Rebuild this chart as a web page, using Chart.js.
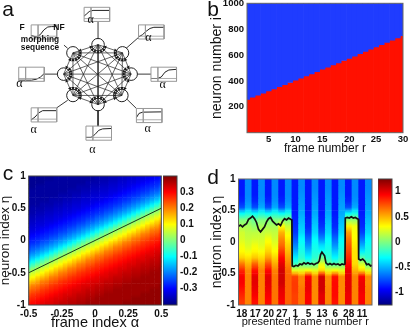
<!DOCTYPE html>
<html>
<head>
<meta charset="utf-8">
<script src="https://cdn.jsdelivr.net/npm/chart.js@4"></script>
<style>
    body { margin: 0; background: #fff; }
    #page { position: relative; width: 410px; height: 327px; overflow: hidden; }
    canvas { position: absolute; }
</style>
</head>
<body>
<div id="page">
    <canvas id="panelA" width="205" height="165" style="left:0;top:0"></canvas>
    <canvas id="panelB" width="205" height="165" style="left:205px;top:0"></canvas>
    <canvas id="panelC" width="205" height="162" style="left:0;top:165px"></canvas>
    <canvas id="panelCBar" width="42" height="162" style="left:163px;top:165px"></canvas>
    <canvas id="panelD" width="205" height="162" style="left:205px;top:165px"></canvas>
    <canvas id="panelDBar" width="32" height="162" style="left:378px;top:165px"></canvas>
</div>
<script>
// panel a: network
const nodesX = [97.7, 124, 133.3, 123.3, 97.7, 70.7, 60.7, 70.7];
const nodesY = [41, 50, 73.3, 96.7, 106.7, 96.7, 73.3, 50];
const stubs = [
    [97.7, 35, 97.7, 15.5], [128, 45, 141.3, 33], [140, 73.3, 154.7, 73.3], [129, 101, 139, 111],
    [97.7, 113, 97.7, 130.3], [65, 102, 53.2, 110.3], [54, 73.3, 39.8, 73.3], [65, 45, 61, 41.5],
];
const boxesX = [82.7, 141.3, 154.7, 139, 84.7, 25.7, 12.3, 25.7];
const boxesY = [0, 19.3, 65.7, 111, 130.3, 110.3, 65.7, 19.3];
const curves = [
    [[0, .62], [.08, .5], [.2, .3], [.35, .22], [1, .22]],
    [[0, .85], [.15, .7], [.3, .45], [.45, .25], [.6, .17], [1, .17]],
    [[0, .8], [.25, .8], [.4, .7], [.55, .35], [.7, .2], [1, .15]],
    [[0, .65], [.1, .35], [.25, .26], [1, .24]],
    [[0, .8], [.2, .8], [.35, .6], [.5, .3], [.65, .2], [1, .17]],
    [[0, .85], [.15, .65], [.3, .35], [.45, .2], [1, .2]],
    [[0, .92], [.5, .92], [.7, .85], [.85, .7], [1, .45]],
    [[0, .75], [.2, .85], [.35, .7], [.5, .35], [.65, .15], [.8, .12], [1, .12]],
];
const alphaLabelsX = [90.7, 148.3, 162.7, 147.7, 92.3, 33.7, 19.3];
const alphaLabelsY = [20, 38.3, 85, 129.3, 149.7, 130, 84.3];

// panel b: red region top for each frame
const framesB = [1, 2, 3, 4, 5, 6, 7, 8, 9, 10, 11, 12, 13, 14, 15, 16, 17, 18, 19, 20, 21, 22, 23, 24, 25, 26, 27, 28, 29, 30];
const redTopB = [258, 275, 290, 305, 322, 338, 355, 372, 388, 405, 422, 438, 455, 472, 490, 506, 523, 540, 558, 575, 592, 610, 628, 645, 662, 680, 698, 715, 733, 750];
const xTicksB = [5, 10, 15, 20, 25, 30];
const yTicksB = [200, 400, 600, 800, 1000];

// panel c: rows from eta=1 down to eta=-1, columns from alpha=-0.5 to 0.5, values in hundredths
const alphaC = [-0.5, -0.466, -0.431, -0.397, -0.362, -0.328, -0.293, -0.259, -0.224, -0.19, -0.155, -0.121, -0.086, -0.052, -0.017, 0.017, 0.052, 0.086, 0.121, 0.155, 0.19, 0.224, 0.259, 0.293, 0.328, 0.362, 0.397, 0.431, 0.466, 0.5];
const etaC = [0.967, 0.9, 0.833, 0.767, 0.7, 0.633, 0.567, 0.5, 0.433, 0.367, 0.3, 0.233, 0.167, 0.1, 0.033, -0.033, -0.1, -0.167, -0.233, -0.3, -0.367, -0.433, -0.5, -0.567, -0.633, -0.7, -0.767, -0.833, -0.9, -0.967];
const heatC = [
    [-39,-39,-39,-39,-39,-39,-38,-38,-38,-38,-38,-38,-38,-38,-38,-37,-37,-37,-36,-36,-35,-35,-34,-34,-33,-33,-32,-31,-30,-29],
    [-39,-39,-39,-39,-38,-38,-38,-38,-38,-38,-38,-38,-38,-37,-37,-37,-36,-36,-35,-35,-34,-34,-33,-33,-32,-31,-30,-29,-28,-27],
    [-39,-39,-38,-38,-38,-38,-38,-38,-38,-38,-38,-37,-37,-37,-36,-36,-35,-35,-34,-34,-33,-33,-32,-31,-30,-29,-28,-27,-26,-24],
    [-38,-38,-38,-38,-38,-38,-38,-38,-38,-37,-37,-37,-36,-36,-35,-35,-34,-34,-33,-33,-32,-31,-30,-29,-28,-27,-26,-24,-23,-21],
    [-38,-38,-38,-38,-38,-38,-38,-37,-37,-37,-36,-36,-35,-35,-34,-34,-33,-33,-32,-31,-30,-29,-28,-27,-26,-24,-23,-21,-19,-17],
    [-38,-38,-38,-38,-38,-37,-37,-37,-36,-36,-35,-35,-34,-34,-33,-33,-32,-31,-30,-29,-28,-27,-26,-24,-23,-21,-19,-17,-15,-12],
    [-38,-38,-38,-37,-37,-37,-36,-36,-35,-35,-34,-34,-33,-33,-32,-31,-30,-29,-28,-27,-26,-24,-23,-21,-19,-17,-15,-12,-9,-6],
    [-38,-37,-37,-37,-36,-36,-35,-35,-34,-34,-33,-33,-32,-31,-30,-29,-28,-27,-26,-24,-23,-21,-19,-17,-15,-12,-9,-6,-3,0],
    [-37,-37,-36,-36,-35,-35,-34,-34,-33,-33,-32,-31,-30,-29,-28,-27,-26,-24,-23,-21,-19,-17,-15,-12,-9,-6,-3,0,3,6],
    [-36,-36,-35,-35,-34,-34,-33,-33,-32,-31,-30,-29,-28,-27,-26,-24,-23,-21,-19,-17,-15,-12,-9,-6,-3,0,3,6,8,10],
    [-35,-35,-34,-34,-33,-33,-32,-31,-30,-29,-28,-27,-26,-24,-23,-21,-19,-17,-15,-12,-9,-6,-3,0,3,6,8,10,13,15],
    [-34,-34,-33,-33,-32,-31,-30,-29,-28,-27,-26,-24,-23,-21,-19,-17,-15,-12,-9,-6,-3,0,3,6,8,10,13,15,17,20],
    [-33,-33,-32,-31,-30,-29,-28,-27,-26,-24,-23,-21,-19,-17,-15,-12,-9,-6,-3,0,3,6,8,10,13,15,17,20,21,23],
    [-32,-31,-30,-29,-28,-27,-26,-24,-23,-21,-19,-17,-15,-12,-9,-6,-3,0,3,6,8,10,13,15,17,20,21,23,24,26],
    [-30,-29,-28,-27,-26,-24,-23,-21,-19,-17,-15,-12,-9,-6,-3,0,3,6,8,10,13,15,17,20,21,23,24,26,27,28],
    [-28,-27,-26,-24,-23,-21,-19,-17,-15,-12,-9,-6,-3,0,3,6,8,10,13,15,17,20,21,23,24,26,27,28,29,30],
    [-26,-24,-23,-21,-19,-17,-15,-12,-9,-6,-3,0,3,6,8,10,13,15,17,20,21,23,24,26,27,28,29,30,31,32],
    [-23,-21,-19,-17,-15,-12,-9,-6,-3,0,3,6,8,10,13,15,17,20,21,23,24,26,27,28,29,30,31,32,33,33],
    [-19,-17,-15,-12,-9,-6,-3,0,3,6,8,10,13,15,17,20,21,23,24,26,27,28,29,30,31,32,33,33,34,35],
    [-15,-12,-9,-6,-3,0,3,6,8,10,13,15,17,20,21,23,24,26,27,28,29,30,31,32,33,33,34,35,35,36],
    [-9,-6,-3,0,3,6,8,10,13,15,17,20,21,23,24,26,27,28,29,30,31,32,33,33,34,35,35,36,36,37],
    [-3,0,3,6,8,10,13,15,17,20,21,23,24,26,27,28,29,30,31,32,33,33,34,35,35,36,36,37,37,38],
    [3,6,8,10,13,15,17,20,21,23,24,26,27,28,29,30,31,32,33,33,34,35,35,36,36,37,37,38,38,38],
    [8,10,13,15,17,20,21,23,24,26,27,28,29,30,31,32,33,33,34,35,35,36,36,37,37,38,38,38,38,38],
    [13,15,17,20,21,23,24,26,27,28,29,30,31,32,33,33,34,35,35,36,36,37,37,38,38,38,38,38,38,38],
    [17,20,21,23,24,26,27,28,29,30,31,32,33,33,34,35,35,36,36,37,37,38,38,38,38,38,38,38,38,39],
    [21,23,24,26,27,28,29,30,31,32,33,33,34,35,35,36,36,37,37,38,38,38,38,38,38,38,38,39,39,39],
    [24,26,27,28,29,30,31,32,33,33,34,35,35,36,36,37,37,38,38,38,38,38,38,38,38,39,39,39,39,39],
    [27,28,29,30,31,32,33,33,34,35,35,36,36,37,37,38,38,38,38,38,38,38,38,39,39,39,39,39,39,39],
    [29,30,31,32,33,33,34,35,35,36,36,37,37,38,38,38,38,38,38,38,38,39,39,39,39,39,39,39,39,39],
];
const lineAlphaC = [-0.5, 0.5];
const lineEtaC = [-0.5, 0.5];
const xTicksC = [-0.5, -0.25, 0, 0.25, 0.5];
const yTicksC = [-1, -0.5, 0, 0.5, 1];
const barTicksC = [-0.3, -0.2, -0.1, 0, 0.1, 0.2, 0.3];

// panel d: one list per stripe, each from eta=0.95 down to eta=-0.95
const stripesD = [1, 2, 3, 4, 5, 6, 7, 8, 9, 10, 11, 12, 13, 14, 15, 16, 17, 18, 19, 20];
const etaD = [0.95, 0.85, 0.75, 0.65, 0.55, 0.45, 0.35, 0.25, 0.15, 0.05, -0.05, -0.15, -0.25, -0.35, -0.45, -0.55, -0.65, -0.75, -0.85, -0.95];
const heatD = [
    [-.88,-.88,-.88,-.85,-.75,-.3,0,.1,.2,.22,.28,.32,.42,.65,.85,.95,.95,.9,.85,.8],
    [-.6,-.6,-.6,-.58,-.52,-.25,0,.1,.15,.18,.22,.28,.38,.5,.6,.62,.62,.62,.62,.62],
    [-.88,-.88,-.88,-.85,-.75,-.3,-.05,.05,.15,.2,.28,.33,.45,.7,.9,1,1,.98,.95,.9],
    [-.6,-.6,-.6,-.58,-.52,-.25,0,.1,.16,.2,.24,.3,.4,.52,.62,.62,.62,.62,.62,.62],
    [-.88,-.88,-.88,-.85,-.75,-.3,0,.1,.18,.28,.35,.42,.55,.75,.92,1,1,.98,.95,.92],
    [-.6,-.6,-.6,-.58,-.52,-.25,0,.1,.16,.2,.26,.32,.42,.52,.62,.65,.65,.65,.65,.65],
    [-.88,-.88,-.88,-.85,-.75,-.3,.02,.3,.5,.6,.68,.8,.92,1,1.05,1.05,1.05,1,.98,.95],
    [-.6,-.6,-.6,-.58,-.52,-.25,0,.18,.28,.35,.42,.48,.55,.62,.68,.7,.7,.7,.7,.7],
    [-.88,-.88,-.88,-.88,-.88,-.88,-.86,-.84,-.8,-.72,-.62,-.5,-.35,-.15,.25,.78,.8,.8,.78,.78],
    [-.6,-.6,-.58,-.56,-.54,-.52,-.48,-.44,-.4,-.32,-.28,-.25,-.2,-.05,.25,.62,.62,.65,.65,.65],
    [-.88,-.88,-.88,-.88,-.88,-.88,-.86,-.84,-.78,-.68,-.58,-.45,-.32,-.12,.3,.95,.98,.98,.95,.95],
    [-.6,-.6,-.58,-.56,-.54,-.52,-.48,-.44,-.4,-.32,-.28,-.25,-.2,-.05,.25,.6,.6,.6,.6,.6],
    [-.88,-.88,-.88,-.88,-.88,-.88,-.86,-.82,-.74,-.6,-.4,-.28,-.05,.25,.4,1.05,1.05,1.05,1,1],
    [-.6,-.6,-.58,-.56,-.54,-.52,-.48,-.44,-.4,-.32,-.28,-.25,-.2,-.05,.25,.6,.6,.62,.62,.62],
    [-.88,-.88,-.88,-.88,-.88,-.88,-.86,-.84,-.78,-.68,-.58,-.45,-.32,-.12,.3,.9,.92,.92,.92,.9],
    [-.6,-.6,-.58,-.56,-.54,-.52,-.48,-.44,-.4,-.32,-.28,-.25,-.2,-.05,.25,.6,.6,.6,.6,.6],
    [-.88,-.88,-.88,-.85,-.75,-.3,.05,.35,.55,.65,.72,.78,.85,.92,.98,1,1,1,.98,.98],
    [-.6,-.6,-.6,-.58,-.52,-.25,.05,.28,.3,.32,.35,.38,.38,.4,.5,.62,.62,.62,.62,.62],
    [-.88,-.88,-.88,-.88,-.88,-.88,-.86,-.84,-.78,-.66,-.52,-.35,-.1,.2,.4,.95,.98,.98,.95,.95],
    [-.6,-.6,-.58,-.56,-.54,-.52,-.48,-.44,-.4,-.32,-.28,-.25,-.2,-.05,.25,.6,.6,.62,.62,.62],
];
const lineXD = [0.5, 0.8, 1.1, 1.4, 1.7, 2.0, 2.3, 2.6, 2.9, 3.2, 3.5, 3.8, 4.1, 4.4, 4.7, 5.0, 5.3, 5.6, 5.9, 6.2, 6.5, 6.8, 7.1, 7.4, 7.7, 8.0, 8.3, 8.5, 8.55, 8.8, 9.1, 9.4, 9.7, 10.0, 10.3, 10.6, 10.9, 11.2, 11.5, 11.8, 12.1, 12.4, 12.6, 12.8, 13.0, 13.2, 13.4, 13.6, 13.9, 14.2, 14.5, 14.8, 15.1, 15.4, 15.7, 16.0, 16.3, 16.45, 16.5, 16.8, 17.1, 17.4, 17.7, 18.0, 18.3, 18.45, 18.5, 18.8, 19.1, 19.4, 19.7, 20.0, 20.3, 20.5];
const lineEtaD = [0.25, 0.27, 0.24, 0.27, 0.29, 0.36, 0.38, 0.41, 0.37, 0.31, 0.2, 0.16, 0.2, 0.24, 0.32, 0.37, 0.39, 0.33, 0.3, 0.27, 0.29, 0.26, 0.33, 0.37, 0.35, 0.38, 0.36, 0.35, -0.38, -0.39, -0.37, -0.38, -0.35, -0.36, -0.33, -0.35, -0.33, -0.35, -0.34, -0.36, -0.34, -0.33, -0.3, -0.2, -0.16, -0.19, -0.22, -0.33, -0.36, -0.34, -0.36, -0.34, -0.36, -0.35, -0.37, -0.35, -0.36, -0.35, 0.38, 0.39, 0.38, 0.4, 0.38, 0.39, 0.37, 0.36, -0.27, -0.29, -0.27, -0.3, -0.36, -0.35, -0.38, -0.37];
const xTicksD = [1, 3, 5, 7, 9, 11, 13, 15, 17, 19];
const xLabelsD = ["18", "17", "20", "27", "1", "5", "13", "6", "28", "11"];
const yTicksD = [-1, -0.5, 0, 0.5, 1];
const barTicksD = [-1, -0.5, 0, 0.5, 1];

const limC = 0.405;
const limD = 1.25;
const FONT = "'Liberation Sans', Arial, sans-serif";

Chart.defaults.font.family = FONT;
Chart.defaults.color = "#111";
Chart.defaults.animation = false;
Chart.defaults.responsive = false;
Chart.defaults.events = [];
Chart.defaults.plugins.legend.display = false;
Chart.defaults.plugins.tooltip.enabled = false;

// frame round the plot and free texts (panel letters, alpha labels)
Chart.register({
    id: "extras",
    afterDatasetsDraw: (chart, args, opts) => {
        const {ctx, chartArea} = chart;
        ctx.save();
        if (opts.frame) {
            ctx.strokeStyle = opts.frame;
            ctx.lineWidth = 1;
            ctx.strokeRect(chartArea.left, chartArea.top, chartArea.right - chartArea.left, chartArea.bottom - chartArea.top);
        }
        ctx.textAlign = "center";
        ctx.textBaseline = "middle";
        ctx.fillStyle = "#111";
        (opts.texts || []).forEach((t) => {
            ctx.font = t.font;
            ctx.fillText(t.text, t.x, t.y);
        });
        ctx.restore();
    },
});

const jet = (v, lim) => {
    const t = (v + lim) / (2 * lim);
    const ch = (c) => Math.round(255 * Math.max(0, Math.min(1, 1.5 - Math.abs(4 * t - c))));
    return `rgb(${ch(3)},${ch(2)},${ch(1)})`;
};

const fit = (w, h) => (s) => {
    if (w !== null) s.width = w;
    if (h !== null) s.height = h;
    s.paddingTop = s.paddingBottom = s.paddingLeft = s.paddingRight = 0;
};

const xAxis = (min, max, ticks, labels, height, tickSize, tickPad, title, titleSize, titlePad) => ({
    type: "linear",
    offset: false,
    min: min,
    max: max,
    afterBuildTicks: (s) => { s.ticks = ticks.map((v) => ({value: v})); },
    afterFit: fit(null, height),
    grid: {display: false, drawTicks: false, offset: false},
    border: {display: false},
    ticks: {
        autoSkip: false, maxRotation: 0, padding: tickPad,
        font: {size: tickSize, weight: "bold"},
        callback: (v) => labels ? labels[ticks.indexOf(v)] : String(v),
    },
    title: {display: true, text: title, font: {size: titleSize}, padding: {top: 0, bottom: titlePad}},
});

const yAxis = (min, max, ticks, width, tickSize, title, titleSize, titlePad) => ({
    min: min,
    max: max,
    afterBuildTicks: (s) => { s.ticks = ticks.map((v) => ({value: v})); },
    afterFit: fit(width, null),
    grid: {display: false, drawTicks: false},
    border: {display: false},
    ticks: {autoSkip: false, padding: 3, font: {size: tickSize, weight: "bold"}, callback: (v) => String(v)},
    title: {display: true, text: title, font: {size: titleSize}, padding: {top: titlePad, bottom: 0}},
});

// one bar dataset per row of the table, each cell a floating bar shaded towards its upper and lower neighbours
const cellDatasets = (xs, etas, rows, halfHeight, lim) => rows.map((row, i) => ({
    type: "bar",
    grouped: false,
    categoryPercentage: 1,
    barPercentage: 1,
    borderWidth: 0,
    data: row.map((v, j) => ({x: xs[j], y: [etas[i] - halfHeight, etas[i] + halfHeight]})),
    backgroundColor: (c) => {
        if (c.dataIndex === undefined || !c.chart.chartArea) return "#000";
        const j = c.dataIndex;
        const y = c.chart.scales.y;
        const top = y.getPixelForValue(etas[i] + halfHeight);
        const bottom = y.getPixelForValue(etas[i] - halfHeight);
        if (!isFinite(top) || !isFinite(bottom)) return "#000";
        const above = i > 0 ? rows[i - 1][j] : row[j];
        const below = i < rows.length - 1 ? rows[i + 1][j] : row[j];
        const g = c.chart.ctx.createLinearGradient(0, top, 0, bottom);
        g.addColorStop(0, jet((above + row[j]) / 2, lim));
        g.addColorStop(0.5, jet(row[j], lim));
        g.addColorStop(1, jet((below + row[j]) / 2, lim));
        return g;
    },
}));

const colorBar = (id, lim, ticks, width, tickSize) => new Chart(document.getElementById(id), {
    type: "bar",
    data: {
        labels: [""],
        datasets: [{
            data: [[-lim, lim]],
            categoryPercentage: 1,
            barPercentage: 1,
            borderWidth: 0,
            backgroundColor: (c) => {
                const area = c.chart.chartArea;
                if (!area) return "#000";
                const g = c.chart.ctx.createLinearGradient(0, area.bottom, 0, area.top);
                [0, 0.125, 0.375, 0.625, 0.875, 1].forEach((t) => g.addColorStop(t, jet(-lim + 2 * lim * t, lim)));
                return g;
            },
        }],
    },
    options: {
        layout: {padding: {top: id === "panelCBar" ? 11 : 14, bottom: 22}},
        plugins: {extras: {frame: "#444"}},
        scales: {
            x: {display: false},
            y: {
                position: "right",
                min: -lim,
                max: lim,
                afterBuildTicks: (s) => { s.ticks = ticks.map((v) => ({value: v})); },
                afterFit: fit(width, null),
                grid: {display: false, drawTicks: false},
                border: {display: false},
                ticks: {autoSkip: false, padding: 3, font: {size: tickSize, weight: "bold"}, callback: (v) => String(v)},
            },
        },
    },
});

const networkChart = () => {
    const datasets = [];
    const line = (pts, color, width) => datasets.push({
        data: pts.map((p) => ({x: p[0], y: p[1]})),
        showLine: true, pointRadius: 0, borderColor: color, borderWidth: width,
    });
    const boxW = 27.5;
    const boxH = 15.5;
    boxesX.forEach((bx, k) => {
        const by = boxesY[k];
        line([[bx + boxW * .27, by], [bx + boxW * .27, by + boxH]], "#999", 0.8);
        line([[bx, by + boxH * .8], [bx + boxW, by + boxH * .8]], "#999", 0.8);
        line([[bx, by], [bx + boxW, by], [bx + boxW, by + boxH], [bx, by + boxH], [bx, by]], "#999", 1);
        line(curves[k].map((p) => [bx + boxW * p[0], by + boxH * p[1]]), "#222", 1);
    });
    stubs.forEach((s) => line([[s[0], s[1]], [s[2], s[3]]], "#222", 0.9));
    const arrows = [];
    const rotations = [];
    nodesX.forEach((x1, i) => nodesX.forEach((x2, j) => {
        if (i === j) return;
        const dx = x2 - x1;
        const dy = nodesY[j] - nodesY[i];
        const len = Math.hypot(dx, dy);
        if (i < j) line([[x1, nodesY[i]], [x2, nodesY[j]]], "#222", 0.7);
        arrows.push({x: x2 - dx / len * 8.2, y: nodesY[j] - dy / len * 8.2});
        rotations.push(Math.atan2(dx, -dy) * 180 / Math.PI);
    }));
    datasets.push({
        data: arrows, showLine: false, pointStyle: "triangle", pointRadius: 2,
        pointRotation: rotations, pointBackgroundColor: "#111", pointBorderWidth: 0,
    });
    datasets.push({
        data: nodesX.map((x, i) => ({x: x, y: nodesY[i]})), showLine: false, pointStyle: "circle", pointRadius: 6.3,
        pointBackgroundColor: "#fff", pointBorderColor: "#222", pointBorderWidth: 1,
    });
    const texts = [
        {text: "a", x: 8, y: 10, font: `21px ${FONT}`},
        {text: "F", x: 22, y: 28, font: `bold 8.5px ${FONT}`},
        {text: "NF", x: 59, y: 28, font: `bold 8.5px ${FONT}`},
        {text: "morphing", x: 40, y: 40, font: `bold 8.3px ${FONT}`},
        {text: "sequence", x: 40, y: 48, font: `bold 8.3px ${FONT}`},
    ];
    alphaLabelsX.forEach((x, i) => texts.push({text: "α", x: x, y: alphaLabelsY[i], font: `12px 'Liberation Serif', serif`}));
    return new Chart(document.getElementById("panelA"), {
        type: "scatter",
        data: {datasets: datasets},
        options: {
            clip: false,
            plugins: {extras: {texts: texts}},
            scales: {
                x: {display: false, min: 0, max: 205},
                y: {display: false, min: 0, max: 165, reverse: true},
            },
        },
    });
};

const panelB = () => new Chart(document.getElementById("panelB"), {
    type: "bar",
    data: {
        datasets: [
            {data: framesB.map((r, i) => ({x: r, y: [redTopB[i], 1000]})), backgroundColor: "#1f3cff"},
            {data: framesB.map((r, i) => ({x: r, y: [0, redTopB[i]]})), backgroundColor: "#ff1000"},
        ].map((d) => ({...d, grouped: false, categoryPercentage: 1, barPercentage: 1, borderWidth: 0})),
    },
    options: {
        layout: {padding: {top: 3.3, right: 7}},
        plugins: {extras: {frame: "#666", texts: [{text: "b", x: 8, y: 10, font: `21px ${FONT}`}]}},
        scales: {
            x: xAxis(1, 30, xTicksB, null, 32.3, 9.5, 1, "frame number r", 12, 9),
            y: yAxis(0, 1000, yTicksB, 42, 9.5, "neuron number i", 14, 4),
        },
    },
});

const panelC = () => new Chart(document.getElementById("panelC"), {
    type: "bar",
    data: {
        datasets: [
            {
                type: "line",
                order: -1,
                data: lineAlphaC.map((a, i) => ({x: a, y: lineEtaC[i]})),
                borderColor: "#1a3a1a",
                borderWidth: 1,
                pointRadius: 0,
            },
            ...cellDatasets(alphaC, etaC, heatC.map((r) => r.map((v) => v / 100)), 1 / 30, limC),
        ],
    },
    options: {
        layout: {padding: {top: 11, right: 43.7}},
        plugins: {extras: {frame: "#444", texts: [{text: "c", x: 8, y: 9, font: `21px ${FONT}`}]}},
        scales: {
            x: xAxis(-0.5, 0.5, xTicksC, null, 22, 10, 3, "frame index α", 14.5, -4.5),
            y: yAxis(-1, 1, yTicksC, 28.7, 10, "neuron index η", 13.5, -3),
        },
    },
});

const panelD = () => new Chart(document.getElementById("panelD"), {
    type: "bar",
    data: {
        datasets: [
            {
                type: "line",
                order: -1,
                data: lineXD.map((x, i) => ({x: x, y: lineEtaD[i]})),
                borderColor: "#111",
                borderWidth: 1.7,
                pointRadius: 0,
            },
            ...cellDatasets(stripesD, etaD, etaD.map((e, i) => heatD.map((col) => col[i])), 0.05, limD),
        ],
    },
    options: {
        layout: {padding: {top: 14, right: 38}},
        plugins: {extras: {frame: "#666", texts: [{text: "d", x: 8, y: 13, font: `21px ${FONT}`}]}},
        scales: {
            x: xAxis(0.5, 20.5, xTicksD, xLabelsD, 22, 10, 3, "presented frame number r", 11, -1.3),
            y: yAxis(-1, 1, yTicksD, 33.5, 10, "neuron index η", 14, 4),
        },
    },
});

networkChart();
panelB();
panelC();
colorBar("panelCBar", limC, barTicksC, 28, 10);
panelD();
colorBar("panelDBar", limD, barTicksD, 18, 10);
</script>
</body>
</html>
